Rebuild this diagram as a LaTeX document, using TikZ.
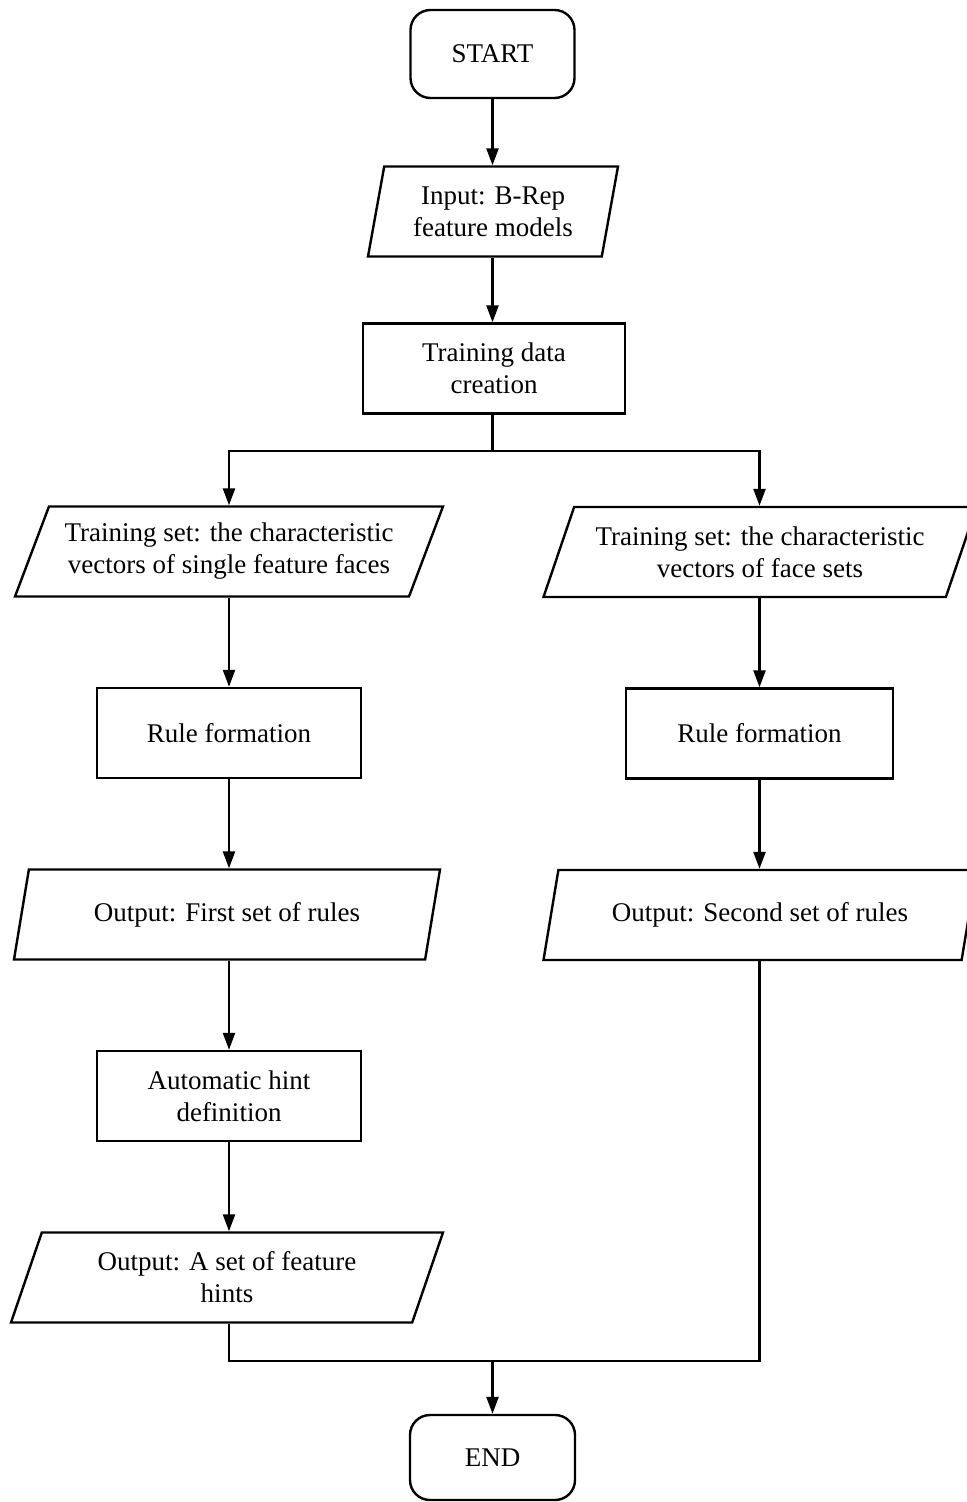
\documentclass[tikz,border=0pt]{standalone}
\usepackage{fontspec}
\setmainfont{Liberation Serif}
\usetikzlibrary{shapes.geometric,arrows.meta}
\begin{document}
\begin{tikzpicture}[x=0.5pt,y=-0.5pt,
  box/.style={draw, line width=1.2pt, align=center, inner sep=0pt,
    font=\fontsize{13.5}{16}\selectfont},
  terminal/.style={box, rectangle, rounded corners=10pt,
    minimum width=82pt, minimum height=44pt},
  process/.style={box, rectangle, minimum width=132pt, minimum height=45pt},
  io/.style={box, trapezium, trapezium left angle=59, trapezium right angle=121,
    trapezium stretches body, minimum height=45pt},
  flow/.style={line width=1.2pt, -{Triangle[length=8.5pt,width=6pt]}},
  link/.style={line width=1.2pt}]
\useasboundingbox (0,0) rectangle (967,1502);
\clip (0,0) rectangle (967,1502);

% main spine
\node[terminal] (start) at (492.5,54) {START};
\node[io, trapezium left angle=72, trapezium right angle=108,
  minimum width=125pt] (input) at (493,211.5) {Input: B-Rep\\feature models};
\node[process, minimum width=131pt] (tdc) at (494,368.5) {Training data\\creation};

% left branch
\node[io, minimum width=214pt] (ts1) at (229,551.5)
  {Training set: the characteristic\\vectors of single feature faces};
\node[process] (rf1) at (229,733) {Rule formation};
\node[io, minimum width=213pt] (out1) at (227,914.5) {Output: First set of rules};
\node[process] (hint) at (229,1096) {Automatic hint\\definition};
\node[io, minimum width=216pt] (out3) at (227,1277.5)
  {Output: A set of feature\\hints};

% right branch
\node[io, minimum width=216.5pt] (ts2) at (760,552)
  {Training set: the characteristic\\vectors of face sets};
\node[process, minimum width=133.5pt] (rf2) at (759.5,733.5) {Rule formation};
\node[io, minimum width=216.5pt] (out2) at (760,915) {Output: Second set of rules};

\node[terminal, minimum width=82.5pt, minimum height=42.5pt] (end) at (492.5,1457.5) {END};

% connectors
\draw[flow] (start.south) -- (start.south |- input.north);
\draw[flow] (start.south |- input.south) -- (start.south |- tdc.north);
\draw[link] (start.south |- tdc.south) -- ++(0,36) coordinate (split);
\draw[flow] (split) -| (rf1.north |- ts1.north);
\draw[flow] (split) -| (rf2.north |- ts2.north);

\draw[flow] (rf1.north |- ts1.south) -- (rf1.north);
\draw[flow] (rf1.south) -- (rf1.south |- out1.north);
\draw[flow] (rf1.south |- out1.south) -- (hint.north);
\draw[flow] (hint.south) -- (hint.south |- out3.north);

\draw[flow] (rf2.north |- ts2.south) -- (rf2.north);
\draw[flow] (rf2.south) -- (rf2.south |- out2.north);

\draw[link] (hint.south |- out3.south) -- ++(0,37) coordinate (merge)
  -| (rf2.south |- out2.south);
\draw[flow] (merge -| end.north) -- (end.north);
\end{tikzpicture}
\end{document}
